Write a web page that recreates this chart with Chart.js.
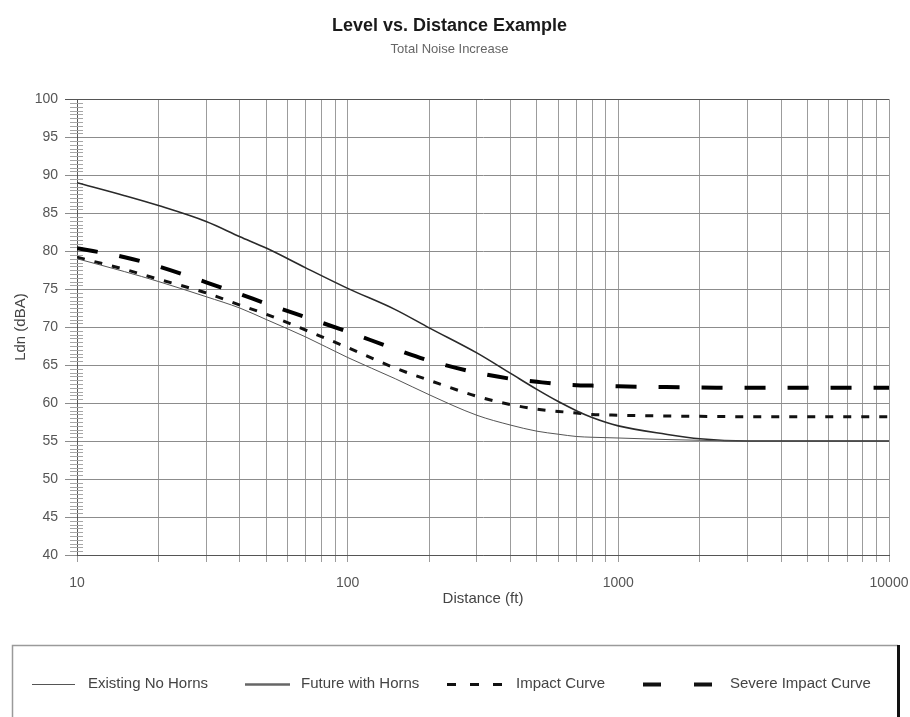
<!DOCTYPE html>
<html>
<head>
<meta charset="utf-8">
<script src="https://cdn.jsdelivr.net/npm/chart.js@4.4.1/dist/chart.umd.min.js"></script>
<style>
  html, body { margin: 0; padding: 0; background: #ffffff; }
  #wrap { width: 910px; height: 717px; }
</style>
</head>
<body>
<div id="wrap"><canvas id="c" width="910" height="717"></canvas></div>
<script>
// Distance from the track (ft) and the four noise level curves (Ldn, dBA)
const distances = [10, 15, 20, 30, 40, 50, 70, 100, 150, 200, 300, 400, 500, 600, 700, 800, 1000, 1500, 2000, 3000, 5000, 10000];
const existingNoHorns = [79.0, 77.3, 76.0, 74.0, 72.5, 71.0, 68.7, 66.0, 63.2, 61.1, 58.4, 57.1, 56.3, 55.9, 55.6, 55.5, 55.4, 55.2, 55.1, 55.0, 55.0, 55.0];
const futureWithHorns = [89.0, 87.3, 86.0, 83.9, 81.9, 80.4, 77.8, 75.1, 72.3, 69.9, 66.6, 63.9, 61.8, 60.2, 59.0, 58.1, 57.0, 55.9, 55.3, 55.0, 55.0, 55.0];
const impactCurve = [79.2, 77.6, 76.3, 74.5, 72.9, 71.7, 69.6, 67.3, 64.6, 63.0, 60.9, 59.8, 59.2, 58.9, 58.7, 58.5, 58.4, 58.3, 58.25, 58.2, 58.2, 58.2];
const severeImpactCurve = [80.4, 79.2, 78.0, 75.9, 74.35, 73.1, 71.3, 69.4, 67.1, 65.6, 64.0, 63.2, 62.8, 62.5, 62.35, 62.3, 62.2, 62.1, 62.05, 62.0, 62.0, 62.0];

// Axis settings
const xLabelledTicks = [10, 100, 1000, 10000];
const yMin = 40, yMax = 100, yStep = 5, yMinorStep = 0.5;

// Grid lines at 1..9 x each decade
const xGridValues = [];
for (let d = 10; d < 10000; d *= 10) {
  for (let m = 1; m <= 9; m++) xGridValues.push(d * m);
}
xGridValues.push(10000);

const FONT = '"Liberation Sans", Arial, sans-serif';

function pointsOf(values) {
  return distances.map((d, i) => ({ x: d, y: values[i] }));
}

// Small crossing tick marks on the left axis between the labelled values
const minorTicks = {
  id: 'minorTicks',
  beforeDatasetsDraw(chart) {
    const ys = chart.scales.y;
    const x0 = chart.chartArea.left;
    const ctx = chart.ctx;
    ctx.save();
    ctx.strokeStyle = '#a6a6a6';
    ctx.lineWidth = 1;
    const n = Math.round((yMax - yMin) / yMinorStep);
    for (let i = 0; i <= n; i++) {
      const v = yMin + i * yMinorStep;
      if (Math.abs(v / yStep - Math.round(v / yStep)) < 1e-9) continue;
      const py = Math.round(ys.getPixelForValue(v)) + 0.5;
      ctx.beginPath();
      ctx.moveTo(x0 - 7, py);
      ctx.lineTo(x0 + 6, py);
      ctx.stroke();
    }
    ctx.restore();
  }
};

// Boxed legend across the bottom of the page
const legendSamples = [
  { x0: 32, x1: 75, tx: 88, width: 1, color: '#555', dash: [] },
  { x0: 245, x1: 290, tx: 301, width: 2.5, color: '#666', dash: [] },
  { x0: 447, x1: 502, tx: 516, width: 3, color: '#111', dash: [9, 14] },
  { x0: 643, x1: 712, tx: 730, width: 4, color: '#111', dash: [18, 33] }
];
const boxedLegend = {
  id: 'boxedLegend',
  afterDraw(chart) {
    const ctx = chart.ctx;
    ctx.save();
    ctx.strokeStyle = '#9a9a9a';
    ctx.lineWidth = 1.5;
    ctx.beginPath();
    ctx.moveTo(12.5, 730);
    ctx.lineTo(12.5, 645.5);
    ctx.lineTo(898, 645.5);
    ctx.stroke();
    ctx.fillStyle = '#111';
    ctx.fillRect(897, 645, 3, 72);
    const cy = 684;
    chart.data.datasets.forEach((ds, i) => {
      const s = legendSamples[i];
      ctx.strokeStyle = s.color;
      ctx.lineWidth = s.width;
      ctx.setLineDash(s.dash);
      ctx.lineCap = 'butt';
      ctx.beginPath();
      ctx.moveTo(s.x0, cy + 0.5);
      ctx.lineTo(s.x1, cy + 0.5);
      ctx.stroke();
      ctx.setLineDash([]);
      ctx.fillStyle = '#444';
      ctx.font = '15px ' + FONT;
      ctx.textBaseline = 'middle';
      ctx.textAlign = 'left';
      ctx.fillText(ds.label, s.tx, cy);
    });
    ctx.restore();
  }
};

new Chart(document.getElementById('c'), {
  type: 'line',
  data: {
    datasets: [
      { label: 'Existing No Horns', data: pointsOf(existingNoHorns), borderColor: '#555', borderWidth: 1 },
      { label: 'Future with Horns', data: pointsOf(futureWithHorns), borderColor: '#2a2a2a', borderWidth: 1.6 },
      { label: 'Impact Curve', data: pointsOf(impactCurve), borderColor: '#111', borderWidth: 3, borderDash: [8, 10] },
      { label: 'Severe Impact Curve', data: pointsOf(severeImpactCurve), borderColor: '#000', borderWidth: 4, borderDash: [21, 22] }
    ]
  },
  options: {
    responsive: false,
    animation: false,
    devicePixelRatio: 1,
    elements: {
      point: { radius: 0, hoverRadius: 0 },
      line: { cubicInterpolationMode: 'monotone', fill: false, borderCapStyle: 'butt' }
    },
    layout: { padding: { left: 10, right: 21, top: 0, bottom: 97 } },
    plugins: {
      legend: { display: false },
      tooltip: { enabled: false },
      title: {
        display: true,
        text: 'Level vs. Distance Example',
        color: '#1a1a1a',
        font: { family: FONT, size: 18, weight: 'bold' },
        padding: { top: 15, bottom: 2 }
      },
      subtitle: {
        display: true,
        text: 'Total Noise Increase',
        color: '#666',
        font: { family: FONT, size: 13 },
        padding: { top: 3, bottom: 42 }
      }
    },
    scales: {
      x: {
        type: 'logarithmic',
        min: 10,
        max: 10000,
        afterBuildTicks(scale) {
          scale.ticks = xGridValues.map(v => ({ value: v }));
        },
        afterFit(scale) {
          scale.height = 65;
          scale.paddingLeft = 0;
          scale.paddingRight = 0;
        },
        grid: { color: '#9c9c9c', lineWidth: 1, tickLength: 7, drawTicks: true },
        border: { display: true, color: '#555', width: 1 },
        ticks: {
          autoSkip: false,
          maxRotation: 0,
          padding: 13,
          color: '#555',
          font: { family: FONT, size: 14 },
          callback: (v) => xLabelledTicks.includes(v) ? String(v) : ''
        },
        title: {
          display: true,
          text: 'Distance (ft)',
          color: '#444',
          font: { family: FONT, size: 15 },
          padding: { top: 0, bottom: 12 }
        }
      },
      y: {
        type: 'linear',
        min: yMin,
        max: yMax,
        afterFit(scale) {
          scale.width = 67;
          scale.paddingTop = 0;
          scale.paddingBottom = 0;
        },
        grid: {
          color: (c) => (c.tick && c.tick.value === yMax) ? '#555' : '#8c8c8c',
          lineWidth: 1,
          tickLength: 12,
          drawTicks: true
        },
        border: { display: true, color: '#555', width: 1 },
        ticks: {
          stepSize: yStep,
          padding: 7,
          color: '#555',
          font: { family: FONT, size: 14 }
        },
        title: {
          display: true,
          text: 'Ldn (dBA)',
          color: '#444',
          font: { family: FONT, size: 15 },
          padding: { top: 2, bottom: 0 }
        }
      }
    }
  },
  plugins: [minorTicks, boxedLegend]
});
</script>
</body>
</html>
